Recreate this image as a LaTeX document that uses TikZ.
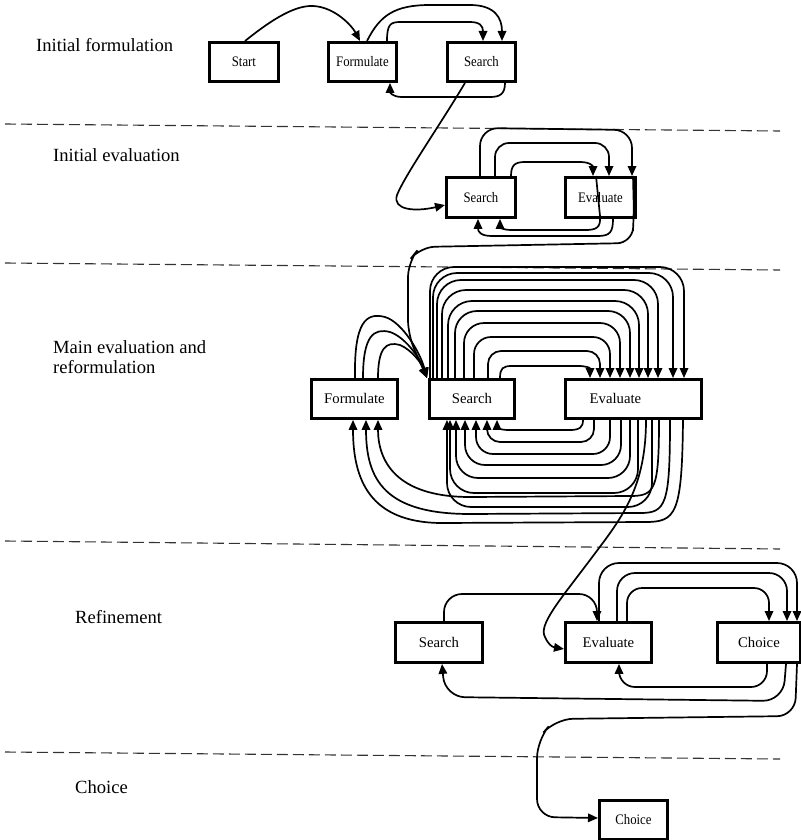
\documentclass[tikz,border=0pt]{standalone}
\usepackage{fontspec}
\setmainfont{Liberation Serif}
\newfontfamily\narrowserif[FakeStretch=0.88]{Liberation Serif}
\usetikzlibrary{arrows.meta}
\begin{document}
\begin{tikzpicture}[x=1pt,y=-1pt,
  box/.style={draw, line width=2.9pt, anchor=north west, inner sep=0pt,
    font=\narrowserif\fontsize{14.5}{16}\selectfont},
  bigbox/.style={box, font=\rmfamily\fontsize{14.7}{17}\selectfont},
  ar/.style={line width=1.7pt, -{Triangle[length=10pt,width=8.5pt]}},
  sep/.style={line width=1.1pt, black!80, dash pattern=on 11pt off 5pt},
  stage/.style={anchor=base west, inner sep=0pt, font=\fontsize{18.6}{20}\selectfont}]
\useasboundingbox (0,0) rectangle (800,840);

% stage separators
\draw[sep] (5,124) -- (780,131);
\draw[sep] (5,263) -- (780,270);
\draw[sep] (5,541) -- (780,549);
\draw[sep] (5,752) -- (780,759);

% stage titles
\node[stage] (t1)  at (36,52)  {Initial formulation};
\node[stage] (t2)  at (53,161) {Initial evaluation};
\node[stage] (t3a) at (53,353) {Main evaluation and};
\node[stage] (t3b) at (53,373) {reformulation};
\node[stage] (t4)  at (75,623) {Refinement};
\node[stage] (t5)  at (75,793) {Choice};

% boxes
\node[box, minimum width=69pt, minimum height=39pt] (st) at (208,41) {Start};
\node[box, minimum width=68pt, minimum height=39pt] (f1) at (327,41) {Formulate};
\node[box, minimum width=68pt, minimum height=39pt] (s1) at (446,41) {Search};

\node[box, minimum width=69pt, minimum height=40pt] (s2) at (445,176) {Search};
\node[box, minimum width=70pt, minimum height=40pt] (e2) at (564,176) {Evaluate};

\node[bigbox, minimum width=86pt, minimum height=39pt] (f3) at (310,378) {Formulate};
\node[bigbox, minimum width=85pt, minimum height=39pt] (s3) at (428,378) {Search};
\node[bigbox, minimum width=136pt, minimum height=39pt] (e3) at (564,378) {Evaluate\hspace*{36pt}};

\node[bigbox, minimum width=87pt, minimum height=40pt] (s4) at (394,621) {Search};
\node[bigbox, minimum width=86pt, minimum height=40pt] (e4) at (564,621) {Evaluate};
\node[bigbox, minimum width=83pt, minimum height=40pt] (c4) at (716,621) {Choice};

\node[box, minimum width=68pt, minimum height=39pt] (c5) at (598,799) {Choice};

% initial formulation
\draw[ar] (st.north -| 245,0) .. controls (265,25) and (292,5) .. (313,6)
  .. controls (335,7) and (352,26) .. (f1.north -| 360,0);
\draw[ar] (f1.north -| 367,0) .. controls (380,15) and (395,5) .. (430,5)
  -- (470,5) .. controls (495,5) and (502,18) .. (s1.north -| 502,0);
\draw[ar] (f1.north -| 387,0) .. controls (387,25) and (390,22) .. (400,22)
  -- (470,22) .. controls (480,22) and (483,26) .. (s1.north -| 483,0);
\draw[ar] (s1.south -| 505,0) .. controls (505,94) and (500,97) .. (490,97)
  -- (402,97) .. controls (392,97) and (390,92) .. (f1.south -| 390,0);
\draw[ar] (s1.south -| 465,0) .. controls (440,125) and (405,175) .. (397,195)
  .. controls (392,210) and (415,212) .. (s2.west |- 0,205);

% initial evaluation
\draw[ar] (s2.north -| 511,0) .. controls (511,165) and (515,162) .. (525,162)
  -- (580,162) .. controls (590,162) and (593,166) .. (e2.north -| 593,0);
\draw[ar, rounded corners=14pt] (s2.north -| 495,0) -- (495,143) -- (609,143) -- (e2.north -| 609,0);
\draw[ar, rounded corners=18pt] (s2.north -| 480,0) -- (480,128) -- (632,130) -- (e2.north -| 632,0);
\draw[ar] (e2.north -| 596,0) -- (600,216) .. controls (601,228) and (596,230) .. (585,230)
  -- (512,230) .. controls (502,230) and (500,227) .. (s2.south -| 500,0);
\draw[ar] (e2.south -| 613,0) .. controls (613,232) and (610,236) .. (598,236)
  -- (492,236) .. controls (481,236) and (478,232) .. (s2.south -| 478,0);
\draw[ar, rounded corners=15pt] (e2.north -| 633,0) -- (634,216) -- (632,243) -- (420,247)
  -- (408,262) -- (408,335) -- (s3.north -| 427,0);

% main evaluation and reformulation: formulate to search
\draw[ar] (f3.north -| 355,0) .. controls (354,322) and (366,312) .. (385,317)
  .. controls (402,322) and (420,352) .. (s3.north -| 427,0);
\draw[ar] (f3.north -| 363,0) .. controls (363,335) and (374,328) .. (390,332)
  .. controls (405,337) and (420,358) .. (s3.north -| 427,0);
\draw[ar] (f3.north -| 378,0) .. controls (378,348) and (386,341) .. (400,345)
  .. controls (412,350) and (422,364) .. (s3.north -| 427,0);

% search to evaluate, over the top
\draw[ar] (s3.north -| 500,0) .. controls (500,368) and (503,366) .. (512,366)
  -- (578,366) .. controls (587,366) and (590,368) .. (e3.north -| 590,0);
\foreach \a/\h/\b/\r in {488/351/600/13, 474/337/610/17, 464/323/620/20,
    455/311/630/22, 448/301/639/24, 442/290/648/24, 437/280/658/24, 433/273/673/24, 430/267/684/24}
  \draw[ar, rounded corners=\r pt] (s3.north -| \a,0) -- (\a,\h) -- (\b,\h) -- (e3.north -| \b,0);

% evaluate back to search, underneath
\draw[ar] (e3.south -| 583,0) .. controls (583,427) and (580,430) .. (570,430)
  -- (509,430) .. controls (499,430) and (497,427) .. (s3.south -| 497,0);
\foreach \a/\h/\b/\r in {594/442/487/13, 610/454/476/17, 621/465/465/20,
    630/478/456/22, 638/493/450/24, 652/507/447/24}
  \draw[ar, rounded corners=\r pt] (e3.south -| \a,0) -- (\a,\h) -- (\b,\h) -- (s3.south -| \b,0);

% evaluate back to formulate
\draw[ar] (e3.south -| 659,0) .. controls (659,490) and (655,496) .. (630,496)
  -- (470,497) .. controls (395,497) and (378,460) .. (f3.south -| 378,0);
\draw[ar] (e3.south -| 670,0) .. controls (670,505) and (666,513) .. (640,513)
  -- (470,514) .. controls (385,514) and (366,480) .. (f3.south -| 366,0);
\draw[ar] (e3.south -| 683,0) .. controls (682,515) and (676,522) .. (645,522)
  -- (440,523) .. controls (370,522) and (353,480) .. (f3.south -| 353,0);

% into refinement
\draw[ar] (e3.south -| 646,0) .. controls (646,490) and (620,520) .. (590,560)
  .. controls (560,600) and (538,625) .. (545,637)
  .. controls (548,644) and (552,647) .. (e4.west |- 0,649);

% refinement
\draw[ar, rounded corners=18pt] (s4.north -| 444,0) -- (444,594) -- (597,594) -- (e4.north -| 597,0);
\draw[ar, rounded corners=20pt] (e4.north -| 599,0) -- (599,563) -- (797,563) -- (c4.north -| 797,0);
\draw[ar, rounded corners=18pt] (e4.north -| 617,0) -- (617,573) -- (787,573) -- (c4.north -| 787,0);
\draw[ar, rounded corners=15pt] (e4.north -| 627,0) -- (627,588) -- (769,588) -- (c4.north -| 769,0);
\draw[ar, rounded corners=16pt] (c4.south -| 767,0) -- (767,687) -- (619,687) -- (e4.south -| 619,0);
\draw[ar, rounded corners=20pt] (c4.south -| 786,0) -- (783,701) -- (445,697) -- (s4.south -| 442,0);

% into choice
\draw[ar, rounded corners=18pt] (c4.south -| 797,0) -- (795,716) -- (555,719) -- (537,740)
  -- (537,817) -- (c5.west |- 0,818);
\end{tikzpicture}
\end{document}
